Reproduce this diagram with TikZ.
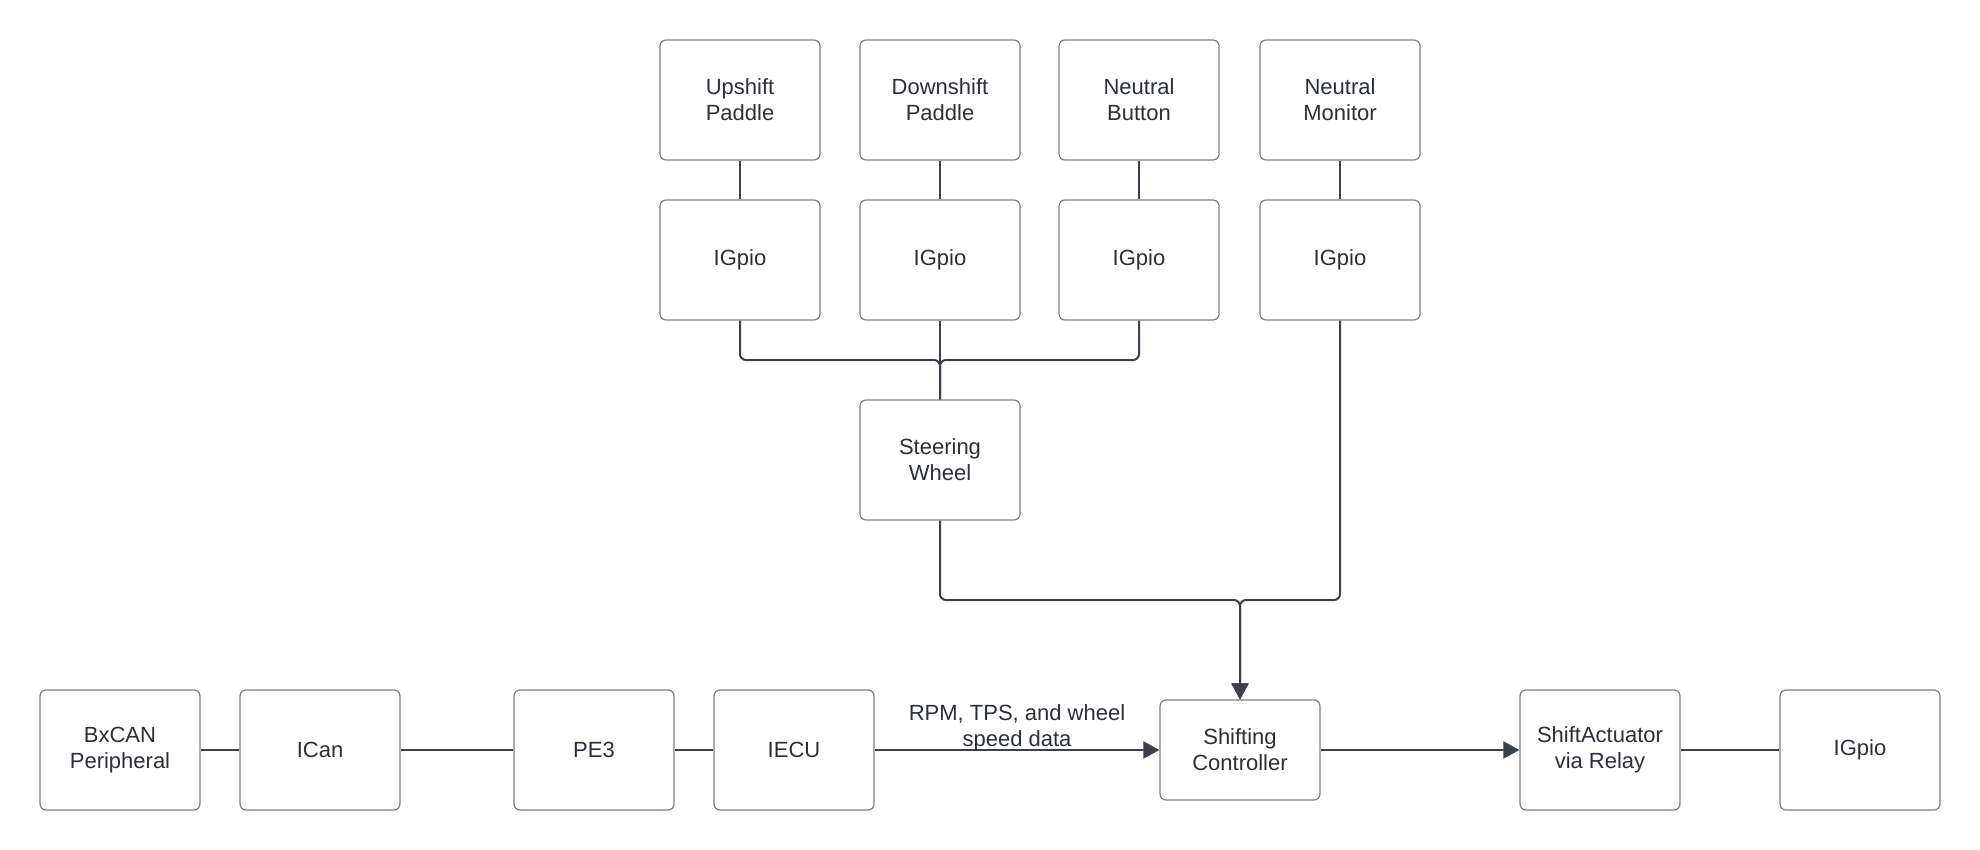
\documentclass[tikz,border=0pt]{standalone}
\usepackage{fontspec}
\setmainfont{Liberation Sans}
\usetikzlibrary{arrows.meta}
\definecolor{linec}{HTML}{3A414A}
\definecolor{boxc}{HTML}{7A7F87}
\definecolor{textc}{HTML}{2B3038}
\begin{document}
\begin{tikzpicture}[x=1pt,y=-1pt,
  blk/.style={draw=boxc, line width=1.2pt, rounded corners=6pt, fill=white,
    minimum width=160pt, minimum height=120pt, inner sep=0pt, align=center,
    text=textc, font=\fontsize{22}{26}\selectfont},
  shortblk/.style={blk, minimum height=100pt},
  conn/.style={draw=linec, line width=2pt, rounded corners=6pt},
  arr/.style={conn, -{Triangle[length=16pt,width=17pt]}},
  lbl/.style={align=center, text=textc, font=\fontsize{22}{26}\selectfont, inner sep=0pt}
]
\useasboundingbox (0,0) rectangle (1980,850);
% top row
\node[blk] (up) at (740,100) {Upshift\\Paddle};
\node[blk] (down) at (940,100) {Downshift\\Paddle};
\node[blk] (nbtn) at (1139,100) {Neutral\\Button};
\node[blk] (nmon) at (1340,100) {Neutral\\Monitor};
% igpio row
\node[blk] (g1) at (740,260) {IGpio};
\node[blk] (g2) at (940,260) {IGpio};
\node[blk] (g3) at (1139,260) {IGpio};
\node[blk] (g4) at (1340,260) {IGpio};
% steering
\node[blk] (sw) at (940,460) {Steering\\Wheel};
% bottom row
\node[blk] (bx) at (120,750) {BxCAN\\Peripheral};
\node[blk] (ican) at (320,750) {ICan};
\node[blk] (pe3) at (594,750) {PE3};
\node[blk] (iecu) at (794,750) {IECU};
\node[shortblk] (sc) at (1240,750) {Shifting\\Controller};
\node[blk] (sa) at (1600,750) {ShiftActuator\\via Relay};
\node[blk] (g5) at (1860,750) {IGpio};
% coordinates
\coordinate (j1) at (940,360);
\coordinate (j2) at (1240,600);
% connectors top
\draw[conn] (up) -- (g1);
\draw[conn] (down) -- (g2);
\draw[conn] (nbtn) -- (g3);
\draw[conn] (nmon) -- (g4);
\draw[conn] (g1.south) |- (j1) -- (sw.north);
\draw[conn] (g3.south) |- (j1) -- (sw.north);
\draw[conn] (g2.south) -- (sw.north);
\draw[arr] (sw.south) |- (j2) -- (sc.north);
\draw[arr] (g4.south) |- (j2) -- (sc.north);
% bottom connectors
\draw[conn] (bx) -- (ican);
\draw[conn] (ican) -- (pe3);
\draw[conn] (pe3) -- (iecu);
\draw[arr] (iecu) -- (sc);
\draw[arr] (sc) -- (sa);
\draw[conn] (sa) -- (g5);
\node[lbl] (l1) at (1017,728) {RPM, TPS, and wheel\\speed data};
\end{tikzpicture}
\end{document}
